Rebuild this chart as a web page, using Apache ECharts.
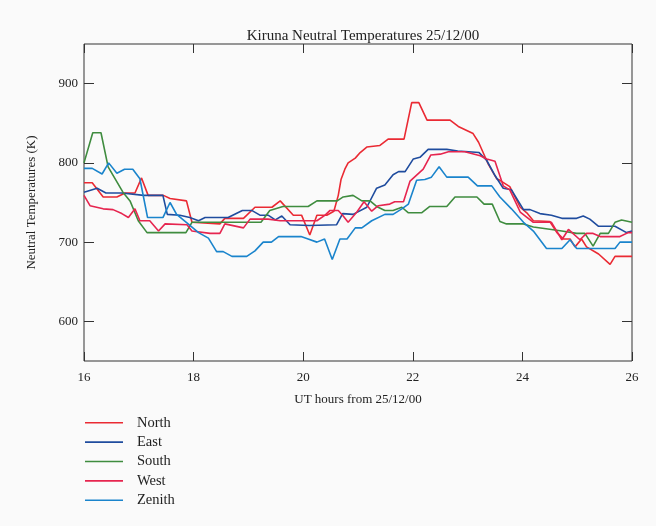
<!DOCTYPE html>
<html>
<head>
<meta charset="utf-8">
<script src="https://cdn.jsdelivr.net/npm/echarts@6/dist/echarts.min.js"></script>
<style>
  html, body { margin: 0; padding: 0; background: #fafafa; }
  #chart { width: 656px; height: 526px; }
</style>
</head>
<body>
<div id="chart"></div>
<script>
// Neutral temperatures (K) against UT hours, one pair of arrays per look direction.
const northT = [16.00,16.15,16.35,16.60,16.75,16.93,17.05,17.17,17.45,17.57,17.87,17.97,18.48,18.57,18.91,19.12,19.43,19.58,19.82,19.97,20.12,20.25,20.43,20.56,20.64,20.69,20.76,20.82,20.95,21.04,21.16,21.28,21.40,21.55,21.84,21.98,22.11,22.26,22.68,22.83,23.10,23.20,23.38,23.53,23.59,23.77,23.96,24.08,24.20,24.50,24.63,24.75,24.87,24.96,25.08,25.17,25.39,25.60,25.69,26.00];
const northV = [775,775,757,757,762,762,781,759,759,755,752,725,723,730,730,744,744,752,734,734,709,734,734,739,759,779,792,800,806,813,820,821,822,830,830,876,876,854,854,846,837,826,798,780,778,770,744,737,727,726,712,704,704,694,704,694,685,672,682,682];

const eastT = [16.00,16.24,16.40,16.69,17.09,17.44,17.52,17.75,17.93,18.09,18.21,18.36,18.63,18.89,19.06,19.21,19.36,19.49,19.61,19.76,20.11,20.61,20.72,20.91,21.16,21.34,21.49,21.64,21.74,21.86,22.01,22.13,22.28,22.62,22.82,23.21,23.35,23.50,23.65,23.80,24.02,24.14,24.32,24.53,24.72,24.99,25.11,25.23,25.39,25.69,25.90,26.00];
const eastV = [763,768,762,762,759,759,735,734,731,727,731,731,731,740,740,734,734,728,733,722,721,722,736,735,744,768,772,785,789,789,805,807,817,817,815,813,803,784,768,766,741,741,736,734,730,730,733,729,720,720,712,714];

const southT = [16.00,16.16,16.31,16.44,16.71,16.84,16.99,17.15,17.86,17.97,19.23,19.39,19.63,20.09,20.25,20.62,20.73,20.91,21.07,21.22,21.34,21.49,21.64,21.80,21.92,22.16,22.31,22.62,22.77,23.17,23.30,23.45,23.59,23.71,24.02,24.20,24.53,24.72,24.99,25.14,25.29,25.42,25.57,25.69,25.81,26.00];
const southV = [800,838,838,795,763,752,727,712,712,725,725,740,745,745,752,752,757,759,752,752,745,740,740,744,737,737,745,745,757,757,748,748,726,723,723,719,716,714,711,711,695,711,711,725,728,725];

const westT = [16.00,16.11,16.35,16.53,16.69,16.81,16.93,17.02,17.20,17.36,17.48,17.88,17.97,18.30,18.48,18.57,18.91,19.03,19.36,19.58,20.25,20.40,20.49,20.64,20.73,20.82,20.98,21.11,21.25,21.37,21.58,21.67,21.83,21.95,22.19,22.33,22.50,22.65,22.95,23.23,23.35,23.50,23.65,23.77,23.96,24.20,24.53,24.72,24.84,25.05,25.17,25.29,25.42,25.78,25.93,26.00];
const westV = [759,746,742,741,736,731,742,727,727,714,723,722,714,711,711,723,718,729,729,727,727,734,740,740,733,725,738,751,739,746,748,751,751,777,792,810,811,814,814,809,805,802,771,766,738,725,725,703,716,703,711,711,707,707,712,712];

const zenithT = [16.00,16.15,16.33,16.45,16.60,16.74,16.89,17.02,17.16,17.44,17.57,17.69,17.90,18.09,18.27,18.42,18.54,18.70,18.97,19.12,19.27,19.42,19.55,19.96,20.09,20.25,20.39,20.53,20.67,20.80,20.95,21.07,21.25,21.49,21.64,21.80,21.92,22.07,22.22,22.34,22.48,22.62,23.01,23.18,23.44,23.59,23.80,24.02,24.20,24.44,24.72,24.87,24.99,25.69,25.78,26.00];
const zenithV = [793,793,786,800,787,792,792,780,731,731,750,735,723,712,705,688,688,682,682,689,700,700,707,707,704,700,704,678,704,704,718,718,727,735,735,742,748,778,779,782,795,782,782,771,771,757,742,725,714,692,692,703,692,692,700,700];

const seriesNames = ['North', 'East', 'South', 'West', 'Zenith'];
const seriesColors = ['#ea2a33', '#1f4c9e', '#3f8c3f', '#e6254f', '#1a84cc'];
const xTicks = [16, 18, 20, 22, 24, 26];
const yTicks = [600, 700, 800, 900];

const pairs = (t, v) => t.map((x, i) => [x, v[i]]);
const seriesData = [
  pairs(northT, northV),
  pairs(eastT, eastV),
  pairs(southT, southV),
  pairs(westT, westV),
  pairs(zenithT, zenithV)
];

const serif = 'Liberation Serif';
const chart = echarts.init(document.getElementById('chart'), null, { renderer: 'canvas' });

const hiddenAxisBits = {
  axisLine: { show: false },
  splitLine: { show: false },
  axisLabel: { show: false }
};

chart.setOption({
  backgroundColor: '#fafafa',
  animation: false,
  title: {
    text: 'Kiruna Neutral Temperatures 25/12/00',
    left: 358,
    top: 24,
    textAlign: 'center',
    textStyle: { fontFamily: serif, fontSize: 15, fontWeight: 'normal', color: '#222' }
  },
  grid: {
    left: 84, right: 24, top: 44, bottom: 165,
    show: true, borderColor: '#333', borderWidth: 1, backgroundColor: 'transparent'
  },
  legend: {
    orient: 'vertical',
    left: 80,
    top: 408,
    icon: 'rect',
    itemWidth: 38,
    itemHeight: 1.6,
    itemGap: 0,
    data: seriesNames,
    textStyle: { fontFamily: serif, fontSize: 14.5, color: '#222', padding: [0, 0, 0, 9], lineHeight: 19.4 }
  },
  xAxis: [
    {
      type: 'value', min: 16, max: 26, interval: 2, position: 'bottom',
      name: 'UT hours from 25/12/00', nameLocation: 'middle', nameGap: 32,
      nameTextStyle: { fontFamily: serif, fontSize: 13, color: '#222' },
      axisLine: { show: false },
      splitLine: { show: false },
      axisTick: { inside: true, length: 9, lineStyle: { color: '#333' }, customValues: xTicks },
      axisLabel: { margin: 10, fontFamily: serif, fontSize: 13, color: '#222', customValues: xTicks }
    },
    Object.assign({
      type: 'value', min: 16, max: 26, interval: 2, position: 'top',
      axisTick: { inside: true, length: 9, lineStyle: { color: '#333' }, customValues: xTicks }
    }, hiddenAxisBits)
  ],
  yAxis: [
    {
      type: 'value', min: 550, max: 950, position: 'left',
      name: 'Neutral Temperatures (K)', nameLocation: 'middle', nameGap: 46, nameRotate: 90,
      nameTextStyle: { fontFamily: serif, fontSize: 13, color: '#222' },
      axisLine: { show: false },
      splitLine: { show: false },
      axisTick: { inside: true, length: 10, lineStyle: { color: '#333' }, customValues: yTicks },
      axisLabel: { margin: 6, fontFamily: serif, fontSize: 13, color: '#222', customValues: yTicks }
    },
    Object.assign({
      type: 'value', min: 550, max: 950, position: 'right',
      axisTick: { inside: true, length: 10, lineStyle: { color: '#333' }, customValues: yTicks }
    }, hiddenAxisBits)
  ],
  series: seriesNames.map((name, i) => ({
    name: name,
    type: 'line',
    data: seriesData[i],
    symbol: 'none',
    color: seriesColors[i],
    lineStyle: { width: 1.6, color: seriesColors[i] },
    z: 2 + i
  }))
});
</script>
</body>
</html>
